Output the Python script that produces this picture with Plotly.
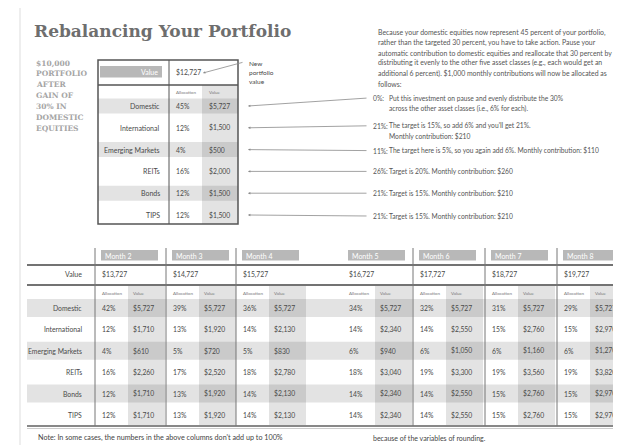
import plotly.graph_objects as go

# ---- data -------------------------------------------------------------
assets = ["Domestic", "International", "Emerging Markets", "REITs", "Bonds", "TIPS"]

start_total = "$12,727"
start_alloc = ["45%", "12%", "4%", "16%", "12%", "12%"]
start_value = ["$5,727", "$1,500", "$500", "$2,000", "$1,500", "$1,500"]

intro_lines = [
    "Because your domestic equities now represent 45 percent of your portfolio,",
    "rather than the targeted 30 percent, you have to take action. Pause your",
    "automatic contribution to domestic equities and reallocate that 30 percent by",
    "distributing it evenly to the other five asset classes (e.g., each would get an",
    "additional 6 percent). $1,000 monthly contributions will now be allocated as",
    "follows:",
]

note_pct = ["0%:", "21%:", "11%:", "26%:", "21%:", "21%:"]
note_text = [
    ["Put this investment on pause and evenly distribute the 30%",
     "across the other asset classes (i.e., 6% for each)."],
    ["The target is 15%, so add 6% and you'll get 21%.",
     "Monthly contribution: $210"],
    ["The target here is 5%, so you again add 6%. Monthly contribution: $110"],
    ["Target is 20%. Monthly contribution: $260"],
    ["Target is 15%. Monthly contribution: $210"],
    ["Target is 15%. Monthly contribution: $210"],
]

months = ["Month 2", "Month 3", "Month 4", "Month 5", "Month 6", "Month 7", "Month 8"]
month_total = ["$13,727", "$14,727", "$15,727", "$16,727", "$17,727", "$18,727", "$19,727"]
month_alloc = [
    ["42%", "12%", "4%", "16%", "12%", "12%"],
    ["39%", "13%", "5%", "17%", "13%", "13%"],
    ["36%", "14%", "5%", "18%", "14%", "14%"],
    ["34%", "14%", "6%", "18%", "14%", "14%"],
    ["32%", "14%", "6%", "19%", "14%", "14%"],
    ["31%", "15%", "6%", "19%", "15%", "15%"],
    ["29%", "15%", "6%", "19%", "15%", "15%"],
]
month_value = [
    ["$5,727", "$1,710", "$610", "$2,260", "$1,710", "$1,710"],
    ["$5,727", "$1,920", "$720", "$2,520", "$1,920", "$1,920"],
    ["$5,727", "$2,130", "$830", "$2,780", "$2,130", "$2,130"],
    ["$5,727", "$2,340", "$940", "$3,040", "$2,340", "$2,340"],
    ["$5,727", "$2,550", "$1,050", "$3,300", "$2,550", "$2,550"],
    ["$5,727", "$2,760", "$1,160", "$3,560", "$2,760", "$2,760"],
    ["$5,727", "$2,970", "$1,270", "$3,820", "$2,970", "$2,970"],
]

# ---- styling ----------------------------------------------------------
W, H = 621, 445
PAGE_PAD = 8  # the page puts the plot 8px in from the corner
SANS = "Lato"
SLAB = "DejaVu Serif"
DARK = "#4a4a4a"
SHADE = "rgba(0,0,0,0.11)"

shapes = []
ann = []


def text(x, y, s, size=7, color=DARK, anchor="left", family=SANS, weight="normal"):
    ann.append(dict(x=x, y=y, xref="x", yref="y", text=s, showarrow=False,
                    xanchor=anchor, yanchor="middle",
                    font=dict(size=size, color=color, family=family, weight=weight)))


def line(x0, y0, x1, y1, color="#555", width=1):
    shapes.append(dict(type="line", xref="x", yref="y", x0=x0, y0=y0, x1=x1, y1=y1,
                       line=dict(color=color, width=width)))


def rect(x0, y0, x1, y1, fill):
    shapes.append(dict(type="rect", xref="x", yref="y", x0=x0, y0=y0, x1=x1, y1=y1,
                       fillcolor=fill, line=dict(width=0), layer="below"))


def arrow(x, y, ax, ay):
    ann.append(dict(x=x, y=y, ax=ax, ay=ay, xref="x", yref="y", axref="x", ayref="y",
                    text="", showarrow=True, arrowhead=2, arrowsize=0.6,
                    arrowwidth=0.8, arrowcolor="#8a8a8a", standoff=0))


# outer frame
line(20, 5, W + 10, 5, "#dddddd", 1)
line(20, 5, 20, H + 10, "#dddddd", 1)

# title and side caption
text(32, 31, "Rebalancing Your Portfolio", size=17, color="#6e6e6e", family=SLAB, weight="bold")
caption = ["$10,000", "PORTFOLIO", "AFTER", "GAIN OF", "30% IN", "DOMESTIC", "EQUITIES"]
for i, c in enumerate(caption):
    text(34, 63 + i * 10.9, c, size=7.5, color="#a5a5a5", family=SLAB, weight="bold")

# ---- upper table ------------------------------------------------------
tx0, tx1, ty0, ty1 = 98, 238, 60, 224
col_alloc, col_val = 169, 202
row0, drow = 106, 21.8

rect(col_val, 85, tx1, ty1, SHADE)
for i in range(len(assets)):
    y = row0 + i * drow
    if i % 2 == 0:
        rect(tx0, y - 7.5, tx1, y + 7.5, SHADE)
rect(100, 66, 162, 77.5, "#b8b8b8")
text(160, 72, "Value", size=7, color="white", anchor="right")
text(174, 72, start_total, size=6.8)

shapes.append(dict(type="rect", xref="x", yref="y", x0=tx0, y0=ty0, x1=tx1, y1=ty1,
                   line=dict(color="#555", width=1.5)))
line(tx0, 85, tx1, 85, "#555", 1.5)
line(col_alloc, ty0, col_alloc, ty1, "#555", 1)

text(174, 92, "Allocation", size=4.5, color="#777")
text(207, 92, "Value", size=4.5, color="#777")
for i, a in enumerate(assets):
    y = row0 + i * drow
    text(162, y, a, size=7, anchor="right")
    text(174, y, start_alloc[i], size=6.8)
    text(207, y, start_value[i], size=6.8)

# new portfolio value pointer
arrow(203, 73, 244, 62)
for i, w in enumerate(["New", "portfolio", "value"]):
    text(247, 63 + i * 9, w, size=6.5)

# ---- notes on the right ----------------------------------------------
for i, s in enumerate(intro_lines):
    text(376, 32 + i * 10.3, s, size=6.9, color="#555")

note_shift = [-8, -2, 1, 0, 0, 1]
for i in range(len(assets)):
    y = row0 + i * drow
    ny = y + note_shift[i]
    arrow(248, y, 368, ny)
    text(371, ny, note_pct[i], size=6.7, color="#555")
    for j, s in enumerate(note_text[i]):
        text(387, ny + j * 10.5, s, size=6.7, color="#555")

# ---- lower table -------------------------------------------------------
lefts = [95, 166, 236, 342, 413, 485, 557]
brow0, bdrow = 308, 21.4
bx0 = 27

for i in range(len(assets)):
    y = brow0 + i * bdrow
    if i % 2 == 0:
        rect(bx0, y - 9, W + 10, y + 9, SHADE)
for L in lefts:
    rect(L + 33, 286, L + 70, 425, SHADE)

line(bx0, 265, W + 10, 265, "#444", 1.5)
line(bx0, 285, W + 10, 285, "#444", 1.5)
line(bx0, 426, W + 10, 426, "#888", 2)
line(bx0, 428.5, W + 10, 428.5, "#cccccc", 1)
for k, L in enumerate(lefts):
    if k != 3:
        line(L, 248, L, 426, "#777", 1)

text(84, 274, "Value", size=7, anchor="right")
for i, a in enumerate(assets):
    text(84, brow0 + i * bdrow, a, size=6.8, anchor="right")

for k, L in enumerate(lefts):
    rect(L + 6, 250, L + 63, 260.5, "#b8b8b8")
    text(L + 8, 255.5, months[k], size=7, color="white")
    text(L + 5, 274, month_total[k], size=6.8)
    text(L + 5, 293, "Allocation", size=4.5, color="#777")
    text(L + 36, 293, "Value", size=4.5, color="#777")
    for i in range(len(assets)):
        y = brow0 + i * bdrow
        text(L + 5, y, month_alloc[k][i], size=6.8)
        text(L + 36, y, month_value[k][i], size=6.8)

text(36, 437, "Note: In some cases, the numbers in the above columns don't add up to 100%",
     size=7.2, color="#444")
text(371, 438, "because of the variables of rounding.", size=7, color="#444")

fig = go.Figure()
fig.update_layout(
    width=W, height=H,
    margin=dict(l=0, r=0, t=0, b=0),
    paper_bgcolor="white", plot_bgcolor="white",
    xaxis=dict(range=[PAGE_PAD, W + PAGE_PAD], visible=False, fixedrange=True),
    yaxis=dict(range=[H + PAGE_PAD, PAGE_PAD], visible=False, fixedrange=True),
    shapes=shapes, annotations=ann, showlegend=False,
)
fig.write_html("out.html")
